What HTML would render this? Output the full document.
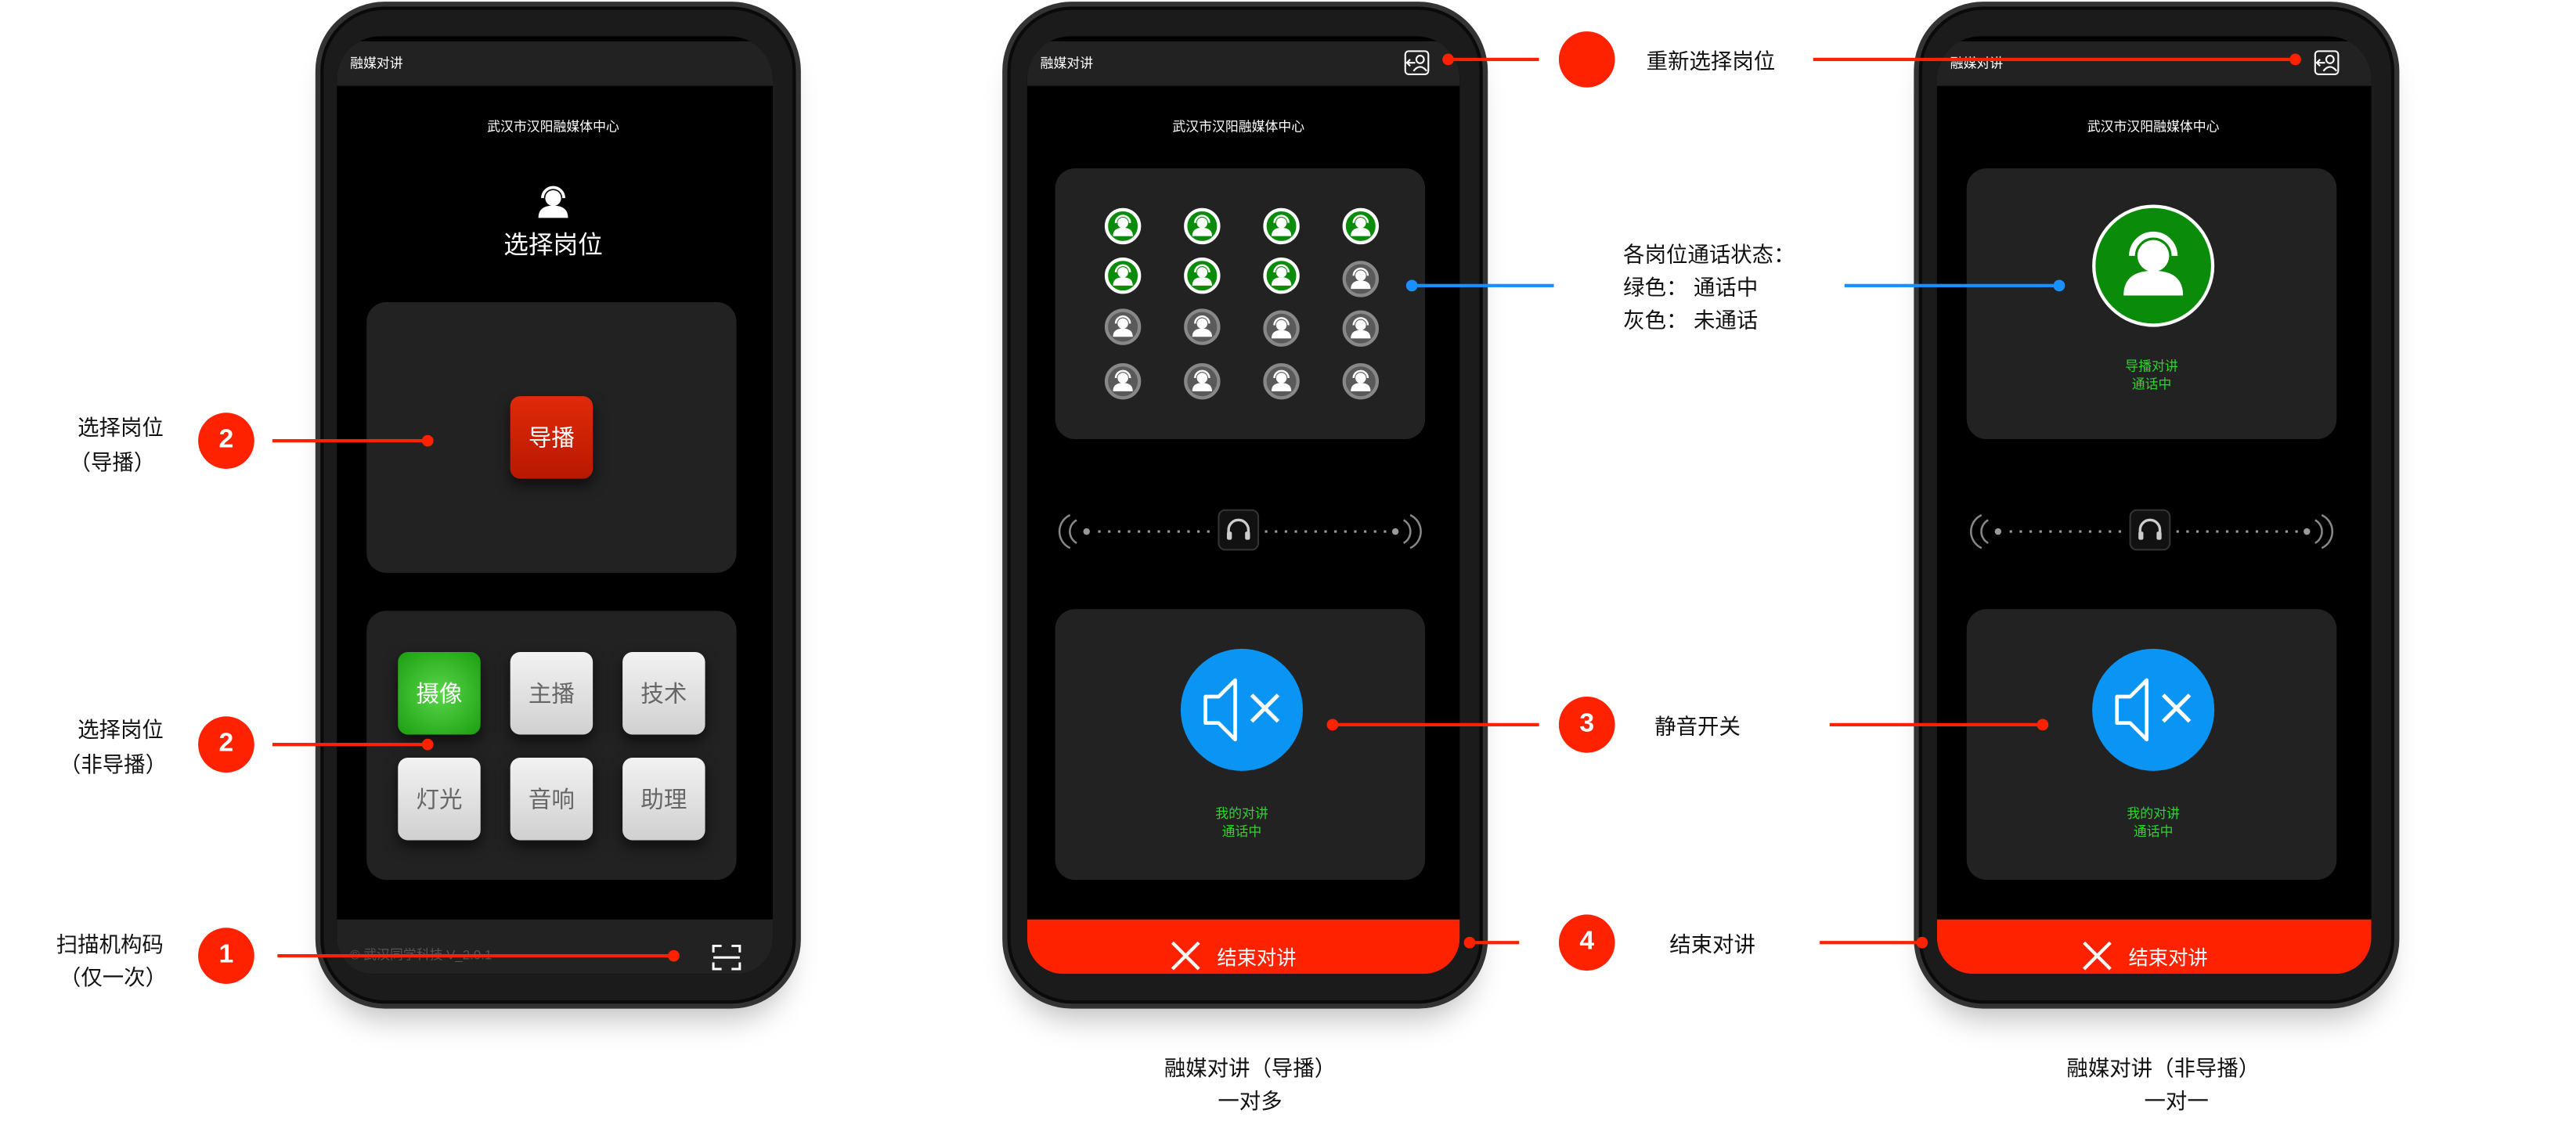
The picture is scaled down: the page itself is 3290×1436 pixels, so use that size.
<!DOCTYPE html>
<html><head><meta charset="utf-8"><style>
html,body{margin:0;padding:0;background:#fff;width:3290px;height:1436px;overflow:hidden}
#s{position:absolute;left:0;top:0;width:1560px;height:681px;transform:scale(2.109);transform-origin:0 0;font-family:"Liberation Sans","Noto Sans CJK SC",sans-serif}
.a{position:absolute}
.phone{position:absolute;border-radius:42px;background:#1b1b1b;border:3px solid #333;box-shadow:0 14px 18px -8px rgba(0,0,0,.25),inset 0 0 0 2px #0a0a0a}
.scr{position:absolute;background:#000;overflow:hidden;border-radius:26px 26px 22px 22px}
.hdr{position:absolute;left:0;right:0;top:3px;height:27px;background:#222;color:#fff;font-size:8px;line-height:27px;padding-left:8px}
.card{position:absolute;background:#222;border-radius:12px}
.t{position:absolute;white-space:nowrap;transform:translate(-50%,-50%)}
.lbl{position:absolute;font-size:13px;color:#111;white-space:nowrap;transform:translateY(-50%)}
.rc{position:absolute;width:34px;height:34px;border-radius:50%;background:#ff2200;color:#fff;font-weight:bold;font-size:16px;text-align:center;line-height:34px;transform:translate(-50%,-50%)}
.ln{position:absolute;height:2px;background:#ff2200;transform:translateY(-50%)}
.bl{background:#1a90ff}
.dot{position:absolute;width:7px;height:7px;border-radius:50%;background:#ff2200;transform:translate(-50%,-50%)}
.btn{position:absolute;width:50px;height:50px;border-radius:6px;background:linear-gradient(#f2f2f2,#d0d0d0);color:#666;font-size:14px;text-align:center;line-height:50px;box-shadow:0 4px 8px rgba(0,0,0,.6)}
.ic{position:absolute;width:22px;height:22px;border-radius:50%;transform:translate(-50%,-50%);box-sizing:border-box}
.g{background:#0a8c0a;border:2px solid #fff}
.gr{background:#5a5a5a;border:2px solid #888}
.red{position:absolute;left:0;right:0;bottom:0;height:33px;background:#ff2200}
</style></head><body><div id="s">
<svg width="0" height="0" style="position:absolute"><defs>
<g id="pi"><circle cx="0" cy="-2" r="3.2" fill="#fff"/><path d="M-6 6 Q-6 1 0 1 Q6 1 6 6 Z" fill="#fff"/><path d="M-4.3 -2 A4.3 4.3 0 0 1 4.3 -2" stroke="#fff" stroke-width="1.2" fill="none"/></g>
<g id="hp"><rect x="-12" y="-12" width="24" height="24" rx="4" fill="#111" stroke="#333"/><path d="M-6 4 V0 A6 6 0 0 1 6 0 V4" stroke="#ccc" stroke-width="1.6" fill="none"/><rect x="-7" y="1" width="3" height="5" rx="1" fill="#ccc"/><rect x="4" y="1" width="3" height="5" rx="1" fill="#ccc"/></g>
<g id="spk"><path d="M-22 -8 H-14 L-4 -18 V18 L-14 8 H-22 Z" fill="none" stroke="#fff" stroke-width="2.2" stroke-linejoin="round"/><path d="M6 -9 L22 7 M22 -9 L6 7" stroke="#fff" stroke-width="2.4"/></g>
<g id="x"><path d="M-8 -8 L8 8 M8 -8 L-8 8" stroke="#fff" stroke-width="2"/></g>
</defs></svg>

<!-- Phone 1 -->
<div class="phone" style="left:191px;top:1px;width:288px;height:604px"></div>
<div class="scr" style="left:204px;top:22px;width:264px;height:568px">
 <div class="hdr">融媒对讲</div>
 <div class="t" style="left:131px;top:55px;color:#fff;font-size:8px">武汉市汉阳融媒体中心</div>
 <svg class="a" style="left:118px;top:88px" width="26" height="26" viewBox="-13 -13 26 26"><g transform="scale(1.5)"><use href="#pi"/></g></svg>
 <div class="t" style="left:131px;top:126px;color:#fff;font-size:15px">选择岗位</div>
 <div class="card" style="left:18px;top:161px;width:224px;height:164px"></div>
 <div class="btn" style="left:105px;top:218px;background:linear-gradient(#e02a0a,#b81800);color:#fff">导播</div>
 <div class="card" style="left:18px;top:348px;width:224px;height:163px"></div>
 <div class="btn" style="left:37px;top:373px;background:radial-gradient(circle,#5ad64a,#1a9e10);color:#fff">摄像</div>
 <div class="btn" style="left:105px;top:373px">主播</div>
 <div class="btn" style="left:173px;top:373px">技术</div>
 <div class="btn" style="left:37px;top:437px">灯光</div>
 <div class="btn" style="left:105px;top:437px">音响</div>
 <div class="btn" style="left:173px;top:437px">助理</div>
 <div style="position:absolute;left:0;right:0;bottom:0;height:33px;background:#222"></div>
 <div class="a" style="left:8px;top:551px;color:#555;font-size:8px">© 武汉同学科技 V_2.0.1</div>
 <svg class="a" style="left:227px;top:550px" width="18" height="16" viewBox="0 0 18 16"><path d="M1 5V1H6M12 1H17V5M17 11V15H12M6 15H1V11M1 8H17" stroke="#fff" stroke-width="1.4" fill="none"/></svg>
</div>
<div class="lbl" style="left:47px;top:258px">选择岗位</div>
<div class="lbl" style="left:42px;top:279px">（导播）</div>
<div class="rc" style="left:137px;top:267px">2</div>
<div class="ln" style="left:165px;top:267px;width:94px"></div><div class="dot" style="left:259px;top:267px"></div>
<div class="lbl" style="left:47px;top:441px">选择岗位</div>
<div class="lbl" style="left:36px;top:462px">（非导播）</div>
<div class="rc" style="left:137px;top:451px">2</div>
<div class="ln" style="left:165px;top:451px;width:94px"></div><div class="dot" style="left:259px;top:451px"></div>
<div class="lbl" style="left:34px;top:571px">扫描机构码</div>
<div class="lbl" style="left:36px;top:591px">（仅一次）</div>
<div class="rc" style="left:137px;top:579px">1</div>
<div class="ln" style="left:168px;top:579px;width:240px"></div><div class="dot" style="left:408px;top:579px"></div>

<!-- Phone 2 -->
<div class="phone" style="left:607px;top:1px;width:288px;height:604px"></div>
<div class="scr" style="left:622px;top:22px;width:262px;height:568px">
 <div class="hdr">融媒对讲</div>
 <svg class="a" style="left:228px;top:8px" width="16" height="16" viewBox="0 0 16 16"><rect x="1" y="1" width="14" height="14" rx="2" stroke="#fff" fill="none"/><circle cx="10" cy="6" r="2.3" stroke="#fff" fill="none"/><path d="M6 13 Q10 8 14 13 M2 8 H7 M4 6 L2 8 L4 10" stroke="#fff" fill="none"/></svg>
 <div class="t" style="left:128px;top:55px;color:#fff;font-size:8px">武汉市汉阳融媒体中心</div>
 <div class="card" style="left:17px;top:80px;width:224px;height:164px"></div>
 <div class="card" style="left:17px;top:347px;width:224px;height:164px"></div>
 <div class="red"></div>
</div>
<!-- icons grid -->
<div id="grid"></div>
<div class="ic g" style="left:680px;top:137px"></div><div class="ic g" style="left:728px;top:137px"></div><div class="ic g" style="left:776px;top:137px"></div><div class="ic g" style="left:824px;top:137px"></div>
<div class="ic g" style="left:680px;top:167px"></div><div class="ic g" style="left:728px;top:167px"></div><div class="ic g" style="left:776px;top:167px"></div><div class="ic gr" style="left:824px;top:169px"></div>
<div class="ic gr" style="left:680px;top:198px"></div><div class="ic gr" style="left:728px;top:198px"></div><div class="ic gr" style="left:776px;top:199px"></div><div class="ic gr" style="left:824px;top:199px"></div>
<div class="ic gr" style="left:680px;top:231px"></div><div class="ic gr" style="left:728px;top:231px"></div><div class="ic gr" style="left:776px;top:231px"></div><div class="ic gr" style="left:824px;top:231px"></div>
<svg class="a" style="left:0;top:0" width="1560" height="681">
 <g transform="translate(0,0)">
 <use href="#pi" x="680" y="137" transform=""/>
 </g>
</svg>
<svg class="a" style="left:0;top:0" width="1560" height="681" viewBox="0 0 1560 681">
 <g fill="#fff">
  <use href="#pi" x="680" y="137"/><use href="#pi" x="728" y="137"/><use href="#pi" x="776" y="137"/><use href="#pi" x="824" y="137"/>
  <use href="#pi" x="680" y="167"/><use href="#pi" x="728" y="167"/><use href="#pi" x="776" y="167"/><use href="#pi" x="824" y="169"/>
  <use href="#pi" x="680" y="198"/><use href="#pi" x="728" y="198"/><use href="#pi" x="776" y="199"/><use href="#pi" x="824" y="199"/>
  <use href="#pi" x="680" y="231"/><use href="#pi" x="728" y="231"/><use href="#pi" x="776" y="231"/><use href="#pi" x="824" y="231"/>
 </g>
 <!-- dotted lines -->
 <g stroke="#888" stroke-width="1.2" fill="none">
  <path d="M652 315 A8 8 0 0 0 652 329 M648 312 A11 11 0 0 0 648 332"/>
  <path d="M850 315 A8 8 0 0 1 850 329 M854 312 A11 11 0 0 1 854 332"/>
  <path d="M1204 315 A8 8 0 0 0 1204 329 M1200 312 A11 11 0 0 0 1200 332"/>
  <path d="M1402 315 A8 8 0 0 1 1402 329 M1406 312 A11 11 0 0 1 1406 332"/>
 </g>
 <g stroke="#999" stroke-width="1.5" stroke-dasharray="1.5 4.5">
  <path d="M665 322 H736 M766 322 H840"/><path d="M1217 322 H1288 M1318 322 H1392"/>
 </g>
 <g fill="#999"><circle cx="658" cy="322" r="2"/><circle cx="845" cy="322" r="2"/><circle cx="1210" cy="322" r="2"/><circle cx="1397" cy="322" r="2"/></g>
 <use href="#hp" x="750" y="321"/><use href="#hp" x="1302" y="321"/>
 <!-- blue circles -->
 <circle cx="752" cy="430" r="37" fill="#0a95f5"/><use href="#spk" x="752" y="430"/>
 <circle cx="1304" cy="430" r="37" fill="#0a95f5"/><use href="#spk" x="1304" y="430"/>
 <use href="#x" x="718" y="579"/><use href="#x" x="1270" y="579"/>
</svg>
<div class="t" style="left:752px;top:493px;color:#2fd42f;font-size:8px">我的对讲</div>
<div class="t" style="left:752px;top:504px;color:#2fd42f;font-size:8px">通话中</div>
<div class="t" style="left:761px;top:580px;color:#fff;font-size:12px">结束对讲</div>
<div class="t" style="left:757px;top:646px;font-size:13px;color:#111">融媒对讲（导播）</div>
<div class="t" style="left:757px;top:666px;font-size:13px;color:#111">一对多</div>

<!-- middle annotations -->
<div class="dot" style="left:877px;top:36px"></div><div class="ln" style="left:877px;top:36px;width:55px"></div>
<div class="rc" style="left:961px;top:36px"></div>
<div class="lbl" style="left:997px;top:36px">重新选择岗位</div>
<div class="ln" style="left:1098px;top:36px;width:292px"></div><div class="dot" style="left:1390px;top:36px"></div>
<div class="dot" style="left:855px;top:173px;background:#1a90ff"></div><div class="ln bl" style="left:855px;top:173px;width:86px"></div>
<div class="lbl" style="left:983px;top:153px">各岗位通话状态：</div>
<div class="lbl" style="left:983px;top:173px">绿色：&nbsp;通话中</div>
<div class="lbl" style="left:983px;top:193px">灰色：&nbsp;未通话</div>
<div class="ln bl" style="left:1117px;top:173px;width:130px"></div><div class="dot" style="left:1247px;top:173px;background:#1a90ff"></div>
<div class="dot" style="left:807px;top:439px"></div><div class="ln" style="left:807px;top:439px;width:125px"></div>
<div class="rc" style="left:961px;top:439px">3</div>
<div class="lbl" style="left:1002px;top:439px">静音开关</div>
<div class="ln" style="left:1108px;top:439px;width:129px"></div><div class="dot" style="left:1237px;top:439px"></div>
<div class="dot" style="left:890px;top:571px"></div><div class="ln" style="left:890px;top:571px;width:30px"></div>
<div class="rc" style="left:961px;top:571px">4</div>
<div class="lbl" style="left:1011px;top:571px">结束对讲</div>
<div class="ln" style="left:1102px;top:571px;width:62px"></div><div class="dot" style="left:1164px;top:571px"></div>

<!-- Phone 3 -->
<div class="phone" style="left:1159px;top:1px;width:288px;height:604px;z-index:-1"></div>
<div class="scr" style="left:1173px;top:22px;width:263px;height:568px;z-index:-1">
 <div class="hdr">融媒对讲</div>
 <svg class="a" style="left:228px;top:8px" width="16" height="16" viewBox="0 0 16 16"><rect x="1" y="1" width="14" height="14" rx="2" stroke="#fff" fill="none"/><circle cx="10" cy="6" r="2.3" stroke="#fff" fill="none"/><path d="M6 13 Q10 8 14 13 M2 8 H7 M4 6 L2 8 L4 10" stroke="#fff" fill="none"/></svg>
 <div class="t" style="left:131px;top:55px;color:#fff;font-size:8px">武汉市汉阳融媒体中心</div>
 <div class="card" style="left:18px;top:80px;width:224px;height:164px"></div>
 <div class="card" style="left:18px;top:347px;width:224px;height:164px"></div>
 <div class="red"></div>
</div>
<svg class="a" style="left:1266px;top:123px" width="76" height="76" viewBox="-38 -38 76 76"><circle r="36" fill="#0a8c0a" stroke="#fff" stroke-width="2"/><g transform="scale(3)"><use href="#pi"/></g></svg>
<div class="t" style="left:1303px;top:222px;color:#2fd42f;font-size:8px">导播对讲</div>
<div class="t" style="left:1303px;top:233px;color:#2fd42f;font-size:8px">通话中</div>
<div class="t" style="left:1304px;top:493px;color:#2fd42f;font-size:8px">我的对讲</div>
<div class="t" style="left:1304px;top:504px;color:#2fd42f;font-size:8px">通话中</div>
<div class="t" style="left:1313px;top:580px;color:#fff;font-size:12px">结束对讲</div>
<div class="t" style="left:1310px;top:646px;font-size:13px;color:#111">融媒对讲（非导播）</div>
<div class="t" style="left:1318px;top:666px;font-size:13px;color:#111">一对一</div>
</div></body></html>
